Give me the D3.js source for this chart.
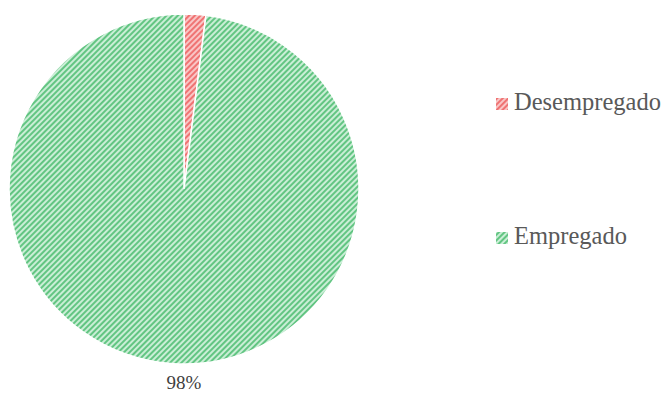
<!DOCTYPE html>
<html>
<head>
<meta charset="utf-8">
<script src="https://cdn.jsdelivr.net/npm/d3@7"></script>
<style>
  html, body { margin: 0; padding: 0; background: #fff; overflow: hidden; }
  svg { display: block; }
</style>
</head>
<body>
<svg id="chart" width="667" height="394"></svg>
<script>
// Employment status shares (percent)
const categories = ["Desempregado", "Empregado"];
const values = [2, 98];
const labels = ["2%", "98%"];

const stripeColors = ["#ef7373", "#62c582"];
const baseColors = ["#f9c6c6", "#caeed6"];

const svg = d3.select("#chart");
const defs = svg.append("defs");

// Diagonal hatch patterns for each slice
categories.forEach((c, i) => {
  const p = defs.append("pattern")
    .attr("id", "hatch" + i)
    .attr("patternUnits", "userSpaceOnUse")
    .attr("width", 4).attr("height", 4)
    .attr("patternTransform", "rotate(45)");
  p.append("rect").attr("width", 4).attr("height", 4).attr("fill", baseColors[i]);
  p.append("rect").attr("width", 2).attr("height", 4).attr("fill", stripeColors[i]);
});

const cx = 184, cy = 189, r = 175;
const pie = d3.pie().sort(null).value(d => d)(values);
const arc = d3.arc().innerRadius(0).outerRadius(r);

const g = svg.append("g").attr("transform", `translate(${cx},${cy})`);
g.selectAll("path.slice")
  .data(pie)
  .join("path")
  .attr("class", "slice")
  .attr("d", arc)
  .attr("fill", (d, i) => `url(#hatch${i})`)
  .attr("stroke", "#fff")
  .attr("stroke-width", 1.5);

// Percentage label for the large slice, below the rim
g.selectAll("text.pct")
  .data(pie.filter(d => d.index === 1))
  .join("text")
  .attr("class", "pct")
  .attr("x", 0)
  .attr("y", r + 25)
  .attr("text-anchor", "middle")
  .attr("font-family", "Liberation Serif, Times New Roman, serif")
  .attr("font-size", 19)
  .attr("fill", "#404040")
  .text(d => labels[d.index]);

// Legend
const legendBase = [110, 244];
const legend = svg.append("g");
categories.forEach((c, i) => {
  legend.append("rect")
    .attr("x", 496).attr("y", legendBase[i] - 12)
    .attr("width", 12).attr("height", 12)
    .attr("fill", `url(#hatch${i})`);
  legend.append("text")
    .attr("x", 514).attr("y", legendBase[i])
    .attr("font-family", "Liberation Serif, Times New Roman, serif")
    .attr("font-size", 24.5)
    .attr("fill", "#595959")
    .text(c);
});
</script>
</body>
</html>
